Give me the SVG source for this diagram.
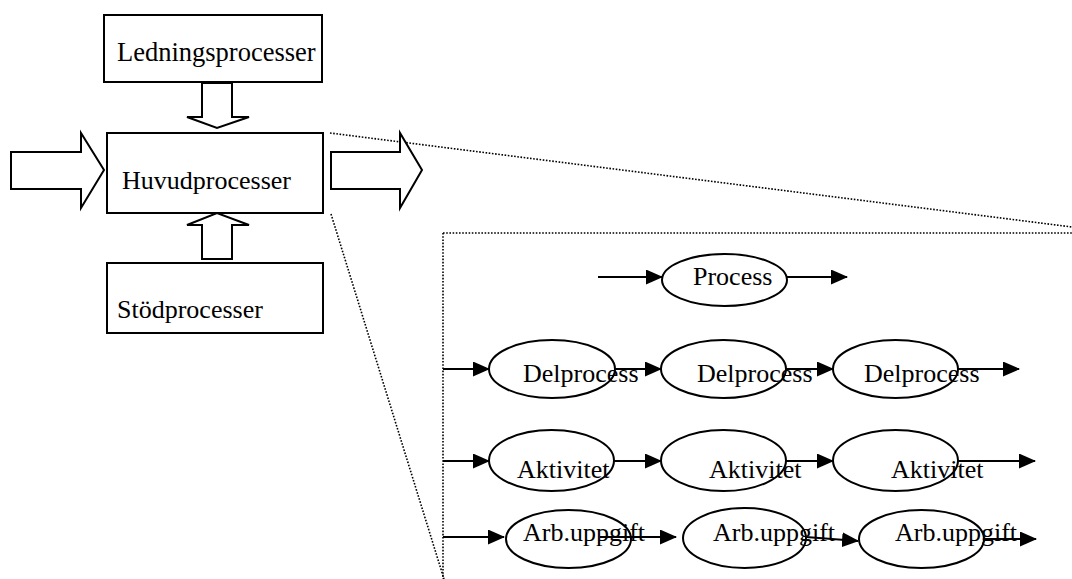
<svg xmlns="http://www.w3.org/2000/svg" width="1072" height="579" viewBox="0 0 1072 579">
<style>
.box{fill:#fff;stroke:#000;stroke-width:2}
.blk{fill:#fff;stroke:#000;stroke-width:2;stroke-linejoin:miter}
.ell{fill:none;stroke:#000;stroke-width:2}
.ln{fill:none;stroke:#000;stroke-width:2}
.dot{fill:none;stroke:#000;stroke-width:1.6;stroke-dasharray:1.6 1.6}
.t{font-family:"Liberation Serif","Times New Roman",serif;font-size:26px;fill:#000}
</style>
<defs>
<marker id="ah" markerUnits="userSpaceOnUse" markerWidth="17" markerHeight="15" viewBox="0 0 17 15" refX="16" refY="7.5" orient="auto">
<path d="M0,0 L17,7.5 L0,15 Z" fill="#000"/>
</marker>
</defs>
<rect width="1072" height="579" fill="#fff"/>

<g id="zoom-lines">
<line class="dot" x1="330" y1="133" x2="1072" y2="227"/>
<line class="dot" x1="331" y1="214" x2="444" y2="579"/>
<line class="dot" x1="443" y1="233" x2="1072" y2="233"/>
<line class="dot" x1="443" y1="233" x2="443" y2="579"/>
</g>

<g id="block-arrows">
<polygon class="blk" points="202,83 232,83 232,117 249,117 217,128 187,117 202,117"/>
<polygon class="blk" points="202,259 232,259 232,225 249,225 217,213 187,225 202,225"/>
<polygon class="blk" points="11,152 81,152 81,133 104,170 81,208 81,189 11,189"/>
<polygon class="blk" points="331,152 400,152 400,133 422,170 400,208 400,189 331,189"/>
</g>

<g id="ledningsprocesser">
<rect class="box" x="104" y="15" width="218" height="67"/>
<text class="t" x="117" y="61" style="font-size:26.5px">Ledningsprocesser</text>
</g>
<g id="huvudprocesser">
<rect class="box" x="107" y="133" width="216" height="80"/>
<text class="t" x="122" y="189">Huvudprocesser</text>
</g>
<g id="stodprocesser">
<rect class="box" x="107" y="263" width="216" height="70"/>
<text class="t" x="117" y="318">Stödprocesser</text>
</g>

<g id="connectors">
<line class="ln" x1="598" y1="277" x2="662" y2="277" marker-end="url(#ah)"/>
<line class="ln" x1="787" y1="277" x2="847" y2="277" marker-end="url(#ah)"/>

<line class="ln" x1="443" y1="369" x2="489" y2="369" marker-end="url(#ah)"/>
<line class="ln" x1="615" y1="369" x2="661" y2="369" marker-end="url(#ah)"/>
<line class="ln" x1="786" y1="369" x2="833" y2="369" marker-end="url(#ah)"/>
<line class="ln" x1="958" y1="369" x2="1019" y2="369" marker-end="url(#ah)"/>

<line class="ln" x1="443" y1="461" x2="489" y2="461" marker-end="url(#ah)"/>
<line class="ln" x1="614" y1="461" x2="661" y2="461" marker-end="url(#ah)"/>
<line class="ln" x1="786" y1="461" x2="833" y2="461" marker-end="url(#ah)"/>
<line class="ln" x1="958" y1="461" x2="1035" y2="461" marker-end="url(#ah)"/>

<line class="ln" x1="443" y1="537" x2="504" y2="537" marker-end="url(#ah)"/>
<line class="ln" x1="600" y1="537" x2="676" y2="537" marker-end="url(#ah)"/>
<line class="ln" x1="806" y1="537" x2="858" y2="541" marker-end="url(#ah)"/>
<line class="ln" x1="984" y1="539" x2="1036" y2="539" marker-end="url(#ah)"/>
</g>

<g id="process">
<ellipse class="ell" cx="724.5" cy="280" rx="62.5" ry="26"/>
<text class="t" x="693" y="285">Process</text>
</g>

<g id="delprocess-1">
<ellipse class="ell" cx="552" cy="369" rx="63" ry="29"/>
<text class="t" x="523" y="382">Delprocess</text>
</g>
<g id="delprocess-2">
<ellipse class="ell" cx="723.5" cy="369" rx="62.5" ry="29"/>
<text class="t" x="697" y="382">Delprocess</text>
</g>
<g id="delprocess-3">
<ellipse class="ell" cx="895.5" cy="369" rx="62.5" ry="29"/>
<text class="t" x="864" y="382">Delprocess</text>
</g>

<g id="aktivitet-1">
<ellipse class="ell" cx="551.5" cy="460.5" rx="62.5" ry="30.5"/>
<text class="t" x="517" y="478">Aktivitet</text>
</g>
<g id="aktivitet-2">
<ellipse class="ell" cx="723.5" cy="460.5" rx="62.5" ry="30.5"/>
<text class="t" x="709" y="478">Aktivitet</text>
</g>
<g id="aktivitet-3">
<ellipse class="ell" cx="895.5" cy="460.5" rx="62.5" ry="30.5"/>
<text class="t" x="891" y="478">Aktivitet</text>
</g>

<g id="arbuppgift-1">
<ellipse class="ell" cx="568.5" cy="539" rx="62.5" ry="29"/>
<text class="t" x="523" y="541">Arb.uppgift</text>
</g>
<g id="arbuppgift-2">
<ellipse class="ell" cx="744.5" cy="538" rx="61.5" ry="30"/>
<text class="t" x="713" y="541">Arb.uppgift</text>
</g>
<g id="arbuppgift-3">
<ellipse class="ell" cx="921.5" cy="539" rx="62.5" ry="29"/>
<text class="t" x="895" y="541">Arb.uppgift</text>
</g>
</svg>
